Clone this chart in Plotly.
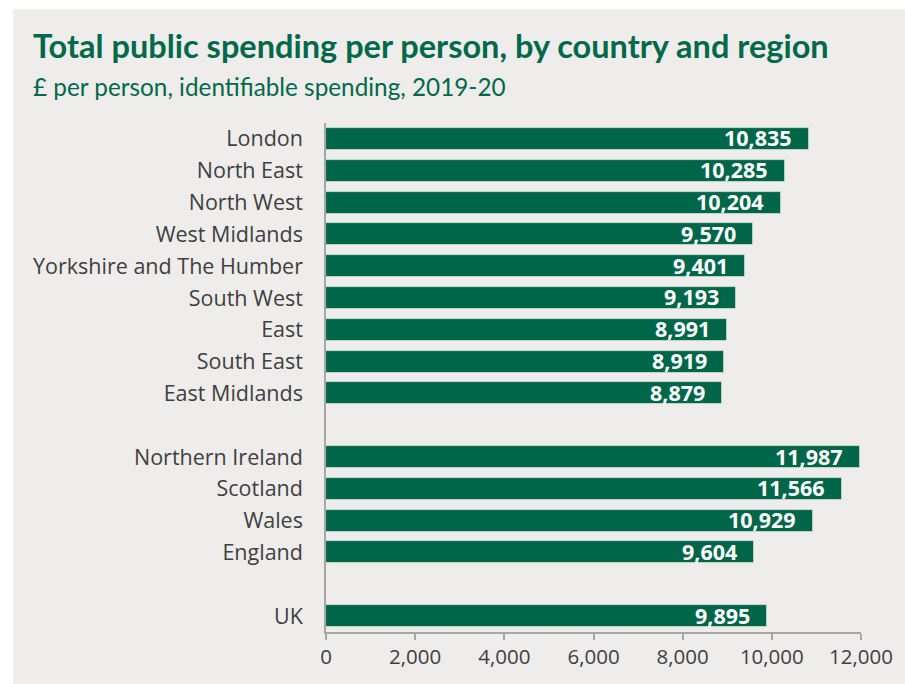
import plotly.graph_objects as go

# Identifiable public spending per person, 2019-20 (£)
regions = ["London", "North East", "North West", "West Midlands",
           "Yorkshire and The Humber", "South West", "East", "South East",
           "East Midlands"]
region_values = [10835, 10285, 10204, 9570, 9401, 9193, 8991, 8919, 8879]

countries = ["Northern Ireland", "Scotland", "Wales", "England"]
country_values = [11987, 11566, 10929, 9604]

uk = ["UK"]
uk_values = [9895]

groups = [(regions, region_values), (countries, country_values), (uk, uk_values)]

# Stack the groups top to bottom, leaving one empty row between groups
labels, values, positions = [], [], []
pos = 0
for names, vals in groups:
    for n, v in zip(names, vals):
        labels.append(n)
        values.append(v)
        positions.append(pos)
        pos += 1
    pos += 1
n_rows = positions[-1] + 1

GREEN = "#00664A"
TEXT = "#404040"
PANEL = "#EEEDEB"
FONT = "Open Sans"

W, H = 905, 684
L, R, T, B = 326, 37, 123, 52
pw, ph = W - L - R, H - T - B

fig = go.Figure(go.Bar(
    x=values,
    y=positions,
    orientation="h",
    width=0.69,
    marker=dict(color=GREEN, line=dict(color="#d8e4dd", width=0.8)),
    hoverinfo="skip",
))

# Value labels inside the end of each bar
for v, p in zip(values, positions):
    fig.add_annotation(
        x=v, y=p, xref="x", yref="y",
        text=f"{v:,}", showarrow=False,
        xanchor="right", yanchor="middle", xshift=-15, yshift=1,
        font=dict(family=FONT, size=21.5, color="white", weight="bold"),
    )

# Title and subtitle
fig.add_annotation(
    x=(27 - L) / pw, y=(H - 45 - B) / ph, xref="paper", yref="paper",
    text="<b>Total public spending per person, by country and region</b>",
    showarrow=False, xanchor="left", yanchor="middle",
    font=dict(family="Lato", size=32.5, color="#00694A"),
)
fig.add_annotation(
    x=(27 - L) / pw, y=(H - 87 - B) / ph, xref="paper", yref="paper",
    text="£ per person, identifiable spending, 2019-20",
    showarrow=False, xanchor="left", yanchor="middle",
    font=dict(family="Lato", size=24.3, color="#00694A"),
)

fig.update_layout(
    width=W, height=H,
    margin=dict(l=L, r=R, t=T, b=B, pad=0),
    paper_bgcolor="white",
    plot_bgcolor=PANEL,
    showlegend=False,
    bargap=0,
    xaxis=dict(
        range=[0, 12000], tickvals=[0, 2000, 4000, 6000, 8000, 10000, 12000],
        tickformat=",d", showgrid=False, zeroline=False,
        showline=True, linecolor="#A6A6A6", linewidth=1.5,
        ticks="outside", ticklen=6, tickcolor="#A6A6A6", tickwidth=1.5,
        tickfont=dict(family=FONT, size=20.5, color=TEXT),
        fixedrange=True,
    ),
    yaxis=dict(
        range=[n_rows - 0.5, -0.5], tickvals=positions, ticktext=labels,
        showgrid=False, zeroline=False,
        showline=True, linecolor="#A6A6A6", linewidth=1.5,
        ticks="", ticklabelstandoff=17,
        tickfont=dict(family=FONT, size=21.5, color=TEXT),
        fixedrange=True,
    ),
)

# Grey panel behind the whole chart, inset from the top and left edges
fig.add_shape(
    type="rect", xref="paper", yref="paper", layer="below",
    x0=(9 - L) / pw, x1=(W - L) / pw + 0.02,
    y0=-B / ph - 0.02, y1=(H - 9 - B) / ph,
    fillcolor=PANEL, line=dict(width=0),
)

fig.write_html("out.html")
